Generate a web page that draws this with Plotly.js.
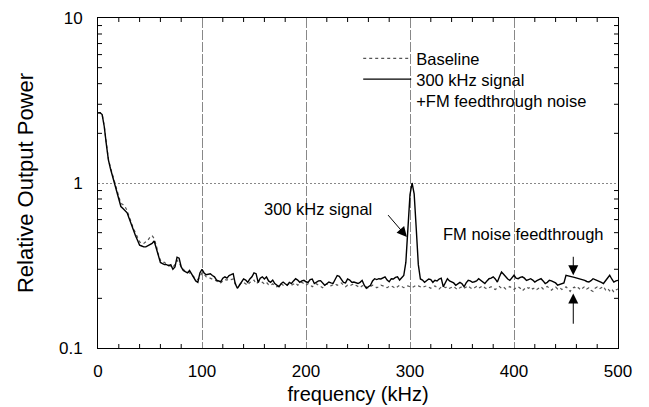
<!DOCTYPE html>
<html>
<head>
<meta charset="utf-8">
<script src="https://cdn.plot.ly/plotly-3.0.1.min.js"></script>
<style>
  html, body { margin: 0; padding: 0; background: #fff; }
  #chart { width: 649px; height: 407px; }
</style>
</head>
<body>
<div id="chart"></div>
<script>
// Frequency grid (kHz): first sample and spacing
const freqStart = 0;
const freqStep = 2;

// Baseline (dotted) relative output power, one value per 2 kHz from 0 to 500 kHz
const baseline = [
  2.66, 2.67, 2.60, 2.22, 1.75, 1.40, 1.24, 1.12, 1.00, 0.90,
  0.82, 0.75, 0.74, 0.72, 0.68, 0.62, 0.57, 0.53, 0.50, 0.47,
  0.44, 0.43, 0.43, 0.44, 0.45, 0.47, 0.48, 0.46, 0.42, 0.37,
  0.34, 0.33, 0.33, 0.32, 0.32, 0.31, 0.31, 0.32, 0.34, 0.33,
  0.31, 0.30, 0.29, 0.29, 0.285, 0.28, 0.27, 0.265, 0.26, 0.27,
  0.285, 0.28, 0.27, 0.268, 0.265, 0.262, 0.26, 0.255, 0.25, 0.248,
  0.255, 0.26, 0.258, 0.262, 0.26, 0.262, 0.245, 0.24, 0.242, 0.248,
  0.25, 0.245, 0.24, 0.25, 0.252, 0.258, 0.245, 0.25, 0.255, 0.25,
  0.245, 0.25, 0.242, 0.24, 0.245, 0.238, 0.235, 0.24, 0.245, 0.24,
  0.238, 0.242, 0.245, 0.24, 0.245, 0.248, 0.24, 0.245, 0.25, 0.245,
  0.24, 0.245, 0.242, 0.235, 0.24, 0.245, 0.24, 0.236, 0.232, 0.24,
  0.245, 0.24, 0.238, 0.242, 0.245, 0.24, 0.245, 0.248, 0.24, 0.235,
  0.24, 0.238, 0.242, 0.245, 0.24, 0.235, 0.232, 0.238, 0.24, 0.235,
  0.23, 0.236, 0.24, 0.238, 0.232, 0.235, 0.24, 0.238, 0.235, 0.232,
  0.236, 0.238, 0.234, 0.23, 0.235, 0.24, 0.236, 0.232, 0.235, 0.238,
  0.235, 0.232, 0.236, 0.24, 0.238, 0.235, 0.232, 0.236, 0.238, 0.234,
  0.23, 0.235, 0.238, 0.232, 0.228, 0.234, 0.236, 0.232, 0.235, 0.23,
  0.232, 0.236, 0.23, 0.226, 0.232, 0.235, 0.23, 0.234, 0.238, 0.232,
  0.228, 0.232, 0.236, 0.23, 0.234, 0.238, 0.232, 0.228, 0.232, 0.235,
  0.23, 0.226, 0.232, 0.236, 0.23, 0.234, 0.228, 0.232, 0.236, 0.23,
  0.226, 0.232, 0.235, 0.23, 0.222, 0.228, 0.234, 0.23, 0.235, 0.228,
  0.232, 0.226, 0.23, 0.235, 0.228, 0.232, 0.236, 0.23, 0.224, 0.23,
  0.234, 0.228, 0.232, 0.226, 0.23, 0.235, 0.228, 0.22, 0.23, 0.234,
  0.228, 0.232, 0.225, 0.23, 0.236, 0.228, 0.232, 0.224, 0.22, 0.23,
  0.234, 0.228, 0.232, 0.236, 0.225, 0.23, 0.222, 0.228, 0.218, 0.225,
  0.228
];

// 300 kHz signal + FM feedthrough noise (solid), same frequency grid
const signal = [
  2.66, 2.67, 2.60, 2.20, 1.72, 1.38, 1.22, 1.10, 0.99, 0.89,
  0.80, 0.72, 0.70, 0.68, 0.66, 0.61, 0.56, 0.51, 0.48, 0.45,
  0.42, 0.415, 0.41, 0.41, 0.415, 0.42, 0.43, 0.445, 0.40, 0.36,
  0.33, 0.325, 0.32, 0.32, 0.315, 0.32, 0.30, 0.31, 0.355, 0.35,
  0.31, 0.295, 0.29, 0.285, 0.295, 0.28, 0.27, 0.255, 0.25, 0.285,
  0.30, 0.285, 0.278, 0.28, 0.282, 0.275, 0.27, 0.258, 0.255, 0.252,
  0.265, 0.27, 0.265, 0.275, 0.278, 0.282, 0.245, 0.23, 0.24, 0.25,
  0.262, 0.258, 0.25, 0.262, 0.27, 0.285, 0.282, 0.25, 0.265, 0.27,
  0.262, 0.27, 0.255, 0.25, 0.258, 0.246, 0.24, 0.235, 0.245, 0.251,
  0.245, 0.24, 0.25, 0.246, 0.255, 0.263, 0.258, 0.25, 0.255, 0.257,
  0.252, 0.25, 0.26, 0.262, 0.246, 0.25, 0.255, 0.256, 0.248, 0.24,
  0.245, 0.251, 0.248, 0.246, 0.26, 0.275, 0.272, 0.262, 0.25, 0.248,
  0.262, 0.258, 0.25, 0.251, 0.248, 0.246, 0.25, 0.257, 0.24, 0.23,
  0.235, 0.24, 0.255, 0.263, 0.26, 0.263, 0.262, 0.265, 0.27, 0.258,
  0.252, 0.263, 0.262, 0.268, 0.27, 0.258, 0.265, 0.275, 0.33, 0.55,
  0.85, 1.00, 0.86, 0.53, 0.32, 0.262, 0.258, 0.25, 0.255, 0.262,
  0.26, 0.25, 0.257, 0.255, 0.262, 0.265, 0.235, 0.25, 0.263, 0.255,
  0.251, 0.248, 0.24, 0.245, 0.25, 0.245, 0.235, 0.248, 0.257, 0.255,
  0.25, 0.252, 0.255, 0.263, 0.258, 0.25, 0.246, 0.255, 0.263, 0.265,
  0.27, 0.262, 0.251, 0.27, 0.289, 0.28, 0.27, 0.262, 0.257, 0.268,
  0.276, 0.265, 0.263, 0.268, 0.27, 0.265, 0.257, 0.26, 0.263, 0.258,
  0.251, 0.256, 0.26, 0.263, 0.255, 0.246, 0.25, 0.257, 0.255, 0.251,
  0.248, 0.24, 0.243, 0.246, 0.248, 0.276, 0.273, 0.272, 0.27, 0.268,
  0.266, 0.263, 0.26, 0.258, 0.257, 0.253, 0.251, 0.256, 0.263, 0.26,
  0.257, 0.255, 0.25, 0.246, 0.255, 0.268, 0.276, 0.262, 0.251, 0.255,
  0.257
];

// Axis ticks
const xRange = [0, 500];
const yLogRange = [-1, 1];              // 0.1 .. 10
const xTickVals = [0, 100, 200, 300, 400, 500];
const yTickVals = [0.1, 1, 10];
const yTickText = ['0.1', '1', '10'];
// small inward tick marks on the frame (every 20 kHz; 2..9 of each decade)
const xSmallTicks = [20, 40, 60, 80, 120, 140, 160, 180, 220, 240, 260, 280, 320, 340, 360, 380, 420, 440, 460, 480];
const ySmallTicks = [0.2, 0.3, 0.4, 0.5, 0.6, 0.7, 0.8, 0.9, 2, 3, 4, 5, 6, 7, 8, 9];

const FONT = 'Liberation Sans, Arial, Helvetica, sans-serif';
const LEGEND_FONT = { family: FONT, size: 16.5, color: '#000' };

const W = 649, H = 407;
const M = { l: 98, r: 31, t: 18, b: 59 };
const plotW = W - M.l - M.r, plotH = H - M.t - M.b;
const TICK_PX = 4;

const traces = [
  {
    type: 'scatter', mode: 'lines', name: 'Baseline', legend: 'legend',
    x0: freqStart, dx: freqStep, y: baseline,
    line: { color: '#555', width: 1.2, dash: 'dot' }
  },
  {
    type: 'scatter', mode: 'lines', name: '300 kHz signal<br>+FM feedthrough noise', legend: 'legend2',
    x0: freqStart, dx: freqStep, y: signal,
    line: { color: '#000', width: 1.4 }
  }
];

// Tick marks drawn as thin frame shapes (bottom/top, left/right)
const tickLine = { color: '#000', width: 1 };
const shapes = [];
const dy = TICK_PX / plotH, dxp = TICK_PX / plotW;
xSmallTicks.forEach(v => {
  shapes.push({ type: 'line', xref: 'x', yref: 'paper', x0: v, x1: v, y0: 0, y1: dy, line: tickLine });
  shapes.push({ type: 'line', xref: 'x', yref: 'paper', x0: v, x1: v, y0: 1, y1: 1 - dy, line: tickLine });
});
ySmallTicks.forEach(v => {
  const f = (Math.log10(v) - yLogRange[0]) / (yLogRange[1] - yLogRange[0]);
  shapes.push({ type: 'line', xref: 'paper', yref: 'paper', x0: 0, x1: dxp, y0: f, y1: f, line: tickLine });
  shapes.push({ type: 'line', xref: 'paper', yref: 'paper', x0: 1, x1: 1 - dxp, y0: f, y1: f, line: tickLine });
});

const layout = {
  width: W, height: H,
  margin: M,
  paper_bgcolor: '#fff', plot_bgcolor: '#fff',
  font: { family: FONT, color: '#000', size: 17 },
  showlegend: true,
  legend: {
    x: 0.5004, y: 0.93, xanchor: 'left', yanchor: 'top',
    bgcolor: 'rgba(0,0,0,0)', borderwidth: 0,
    font: LEGEND_FONT, itemwidth: 48, valign: 'top'
  },
  legend2: {
    x: 0.5004, y: 0.867, xanchor: 'left', yanchor: 'top',
    bgcolor: 'rgba(0,0,0,0)', borderwidth: 0,
    font: LEGEND_FONT, itemwidth: 48, valign: 'top'
  },
  xaxis: {
    range: xRange,
    tickmode: 'array', tickvals: xTickVals,
    ticks: '',
    showline: true, mirror: true, linecolor: '#000', linewidth: 1,
    showgrid: true, gridcolor: '#888', gridwidth: 1, griddash: '10px,2px',
    zeroline: false,
    ticklabelstandoff: 8,
    tickfont: { family: FONT, size: 17, color: '#000' },
    title: { text: 'frequency (kHz)', font: { family: FONT, size: 20, color: '#000' }, standoff: 6 }
  },
  yaxis: {
    type: 'log', range: yLogRange,
    tickmode: 'array', tickvals: yTickVals, ticktext: yTickText,
    ticks: '',
    showline: true, mirror: true, linecolor: '#000', linewidth: 1,
    showgrid: true, gridcolor: '#888', gridwidth: 1, griddash: '2px,2px',
    zeroline: false,
    ticklabelstandoff: 11,
    tickfont: { family: FONT, size: 17, color: '#000' },
    title: { text: 'Relative Output Power', font: { family: FONT, size: 22, color: '#000' }, standoff: 19 }
  },
  shapes: shapes,
  annotations: [
    { xref: 'x', yref: 'y', x: 211.7, y: -0.155, text: '300 kHz signal', showarrow: false,
      font: { family: FONT, size: 16.5, color: '#000' } },
    { xref: 'x', yref: 'y', x: 297, y: -0.327, axref: 'x', ayref: 'y', ax: 277.7, ay: -0.1855,
      text: '', showarrow: true, arrowhead: 2, arrowsize: 2, arrowwidth: 1, arrowcolor: '#000' },
    { xref: 'x', yref: 'y', x: 408.9, y: -0.3067, text: 'FM noise feedthrough', showarrow: false,
      font: { family: FONT, size: 16.5, color: '#000' } },
    { xref: 'x', yref: 'y', x: 457, y: -0.559, axref: 'x', ayref: 'y', ax: 457, ay: -0.438,
      text: '', showarrow: true, arrowhead: 2, arrowsize: 2, arrowwidth: 1, arrowcolor: '#000' },
    { xref: 'x', yref: 'y', x: 457, y: -0.670, axref: 'x', ayref: 'y', ax: 457, ay: -0.862,
      text: '', showarrow: true, arrowhead: 2, arrowsize: 2, arrowwidth: 1, arrowcolor: '#000' }
  ]
};

Plotly.newPlot('chart', traces, layout, { staticPlot: true, displayModeBar: false });
</script>
</body>
</html>
